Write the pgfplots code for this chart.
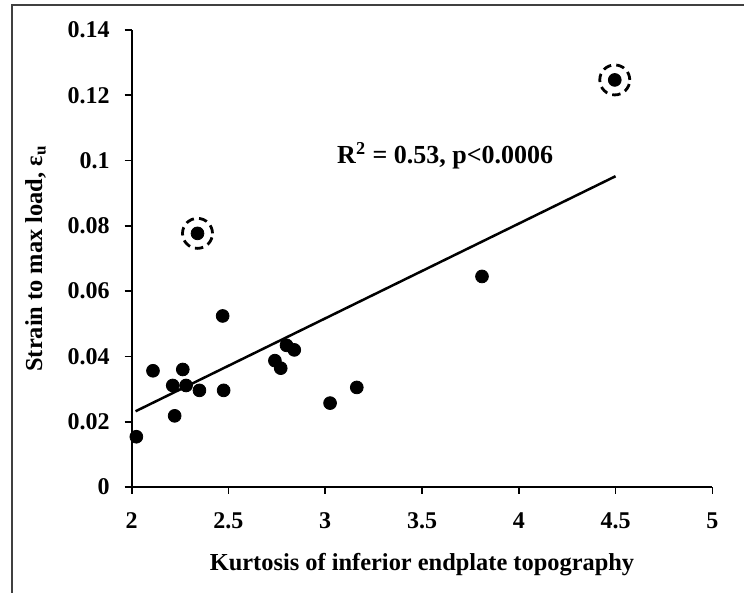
\documentclass[border=0pt]{standalone}
\usepackage{pgfplots}
\pgfplotsset{compat=1.18}
\usepackage{fontspec}
\setmainfont{Liberation Serif}

\begin{document}
\begin{tikzpicture}
% fixed page: 744 x 593 px at 0.5pt per px, axis lower-left at origin
\path[use as bounding box] (-65.85pt,-53pt) rectangle (306.15pt,243.5pt);
\draw[line width=1pt, black!75] (-59.85pt,-60pt) -- (-59.85pt,241pt) -- (320pt,241pt);
\begin{axis}[
  at={(0,0)}, anchor=south west,
  scale only axis,
  width=290.3pt, height=228.5pt,
  xmin=2, xmax=5, ymin=0, ymax=0.14,
  xtick={2,2.5,...,5},
  ytick={0,0.02,...,0.14},
  axis x line*=bottom, axis y line*=left,
  axis line style={line width=0.8pt, -},
  tick style={line width=0.8pt, black},
  tick align=outside,
  major tick length=3.5pt,
  font=\bfseries\fontsize{12}{14}\selectfont,
  /pgf/number format/assume math mode=true,
  /pgf/number format/fixed,
  /pgf/number format/precision=2,
  yticklabel style={xshift=-4pt},
  xticklabel style={yshift=-6pt},
  xlabel={Kurtosis of inferior endplate topography},
  ylabel={Strain to max load, ε\textsubscript{u}},
  xlabel style={font=\bfseries\fontsize{12.2}{14}\selectfont, yshift=-5pt},
  ylabel style={font=\bfseries\fontsize{12.2}{14}\selectfont, yshift=4pt},
  clip=false,
]
\addplot[only marks, mark=*, mark size=3.2pt, black] coordinates {
  (2.024,0.0154) (2.11,0.0356) (2.212,0.0311) (2.222,0.0218)
  (2.264,0.0360) (2.281,0.0311) (2.35,0.0296) (2.47,0.0524)
  (2.475,0.0296) (2.74,0.0387) (2.77,0.0364) (2.80,0.0434)
  (2.84,0.0420) (3.025,0.0257) (3.163,0.0305) (3.81,0.0645)
  (2.34,0.0777) (4.496,0.1247)
};
\addplot[only marks, mark=o, mark size=7.5pt, black,
  mark options={dash pattern=on 4.2pt off 2.6pt, line width=1.4pt}] coordinates {
  (2.34,0.0777) (4.496,0.1247)
};
\addplot[black, line width=1.25pt] coordinates {(2.02,0.0232) (4.5,0.0952)};
\node[font=\bfseries\fontsize{13}{15}\selectfont] at (axis cs:3.62,0.1015) {R\textsuperscript{2} = 0.53, p<0.0006};
\end{axis}
\end{tikzpicture}
\end{document}
